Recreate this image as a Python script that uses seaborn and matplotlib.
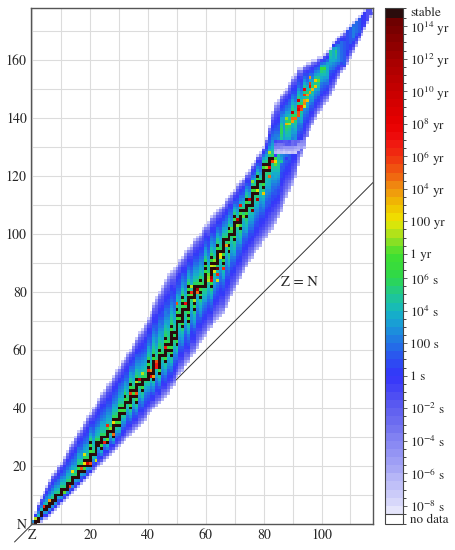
import numpy as np
import matplotlib
matplotlib.use("Agg")
import matplotlib.pyplot as plt
from matplotlib.colors import LinearSegmentedColormap, ListedColormap, BoundaryNorm
import seaborn as sns

# ---- data (Z = protons, N = neutrons) ----
# lowest / highest N drawn for each Z = 0..118
n_min = [1, 0, 1, 1, 2, 2, 3, 4, 5, 6,
         7, 8, 9, 10, 11, 12, 13, 14, 15, 16,
         17, 18, 19, 20, 21, 22, 23, 24, 25, 26,
         27, 28, 29, 30, 31, 32, 33, 34, 35, 36,
         38, 39, 40, 41, 42, 43, 44, 45, 47, 48,
         51, 52, 53, 55, 56, 58, 59, 61, 63, 64,
         65, 67, 68, 70, 71, 72, 73, 75, 77, 79,
         81, 83, 85, 87, 89, 91, 92, 94, 95, 96,
         98, 99, 101, 102, 104, 106, 108, 111, 113, 115,
         117, 120, 124, 127, 130, 134, 136, 138, 140, 142,
         143, 145, 146, 148, 150, 152, 154, 156, 157, 159,
         161, 163, 165, 167, 169, 171, 173, 175, 176]
n_max = [1, 4, 7, 9, 11, 13, 15, 17, 18, 20,
         21, 23, 25, 27, 28, 30, 32, 33, 35, 37,
         38, 40, 41, 43, 45, 46, 48, 49, 51, 53,
         54, 56, 57, 59, 60, 62, 64, 66, 67, 69,
         71, 73, 76, 78, 80, 82, 84, 86, 87, 88,
         89, 91, 92, 94, 95, 96, 98, 99, 100, 102,
         103, 104, 106, 107, 108, 109, 110, 112, 113, 114,
         115, 117, 118, 119, 121, 122, 124, 125, 127, 128,
         130, 133, 137, 142, 145, 146, 148, 149, 150, 152,
         154, 155, 157, 157, 158, 159, 159, 160, 160, 161,
         161, 162, 163, 164, 166, 167, 168, 169, 170, 171,
         172, 173, 174, 175, 176, 177, 177, 177, 177]

# stable N for each Z = 0..83
stable_n = [[], [0, 1], [1, 2], [3, 4], [5], [5, 6], [6, 7], [7, 8], [8, 9, 10], [10],
            [10, 11, 12], [12], [12, 13, 14], [14], [14, 15, 16], [16], [16, 17, 18, 20], [18, 20], [18, 20, 22], [20, 22],
            [20, 22, 23, 24, 26, 28], [24], [24, 25, 26, 27, 28], [28], [26, 28, 29, 30], [30], [28, 30, 31, 32], [32], [30, 32, 33, 34, 36], [34, 36],
            [34, 36, 37, 38, 40], [38, 40], [38, 40, 41, 42, 44], [42], [40, 42, 43, 44, 46, 48], [44, 46], [42, 44, 46, 47, 48, 50], [48], [46, 48, 49, 50], [50],
            [50, 51, 52, 54, 56], [52], [50, 52, 53, 54, 55, 56, 58], [], [52, 54, 55, 56, 57, 58, 60], [58], [56, 58, 59, 60, 62, 64], [60, 62], [58, 60, 62, 63, 64, 65, 66, 68], [64],
            [62, 64, 65, 66, 67, 68, 69, 70, 72, 74], [70, 72], [68, 70, 71, 72, 73, 74, 76, 78], [74], [70, 72, 74, 75, 76, 77, 78, 80, 82], [78], [74, 76, 78, 79, 80, 81, 82], [82], [78, 80, 82, 84], [82],
            [82, 83, 84, 85, 86, 88, 90], [], [82, 86, 87, 88, 90, 92], [88, 90], [90, 91, 92, 93, 94, 96], [94], [90, 92, 94, 95, 96, 97, 98], [98], [94, 96, 98, 99, 100, 102], [100],
            [98, 100, 101, 102, 103, 104, 106], [104], [102, 104, 105, 106, 108], [108], [106, 108, 109, 110, 112], [110], [110, 111, 112, 113, 114, 116], [114, 116], [114, 116, 117, 118, 120], [118],
            [116, 118, 119, 120, 121, 122, 124], [122, 124], [122, 124, 125, 126], [126]]
# valley position where there is no stable isotope
no_stable_valley = {0: 1, 43: 55, 61: 85}

# Z = 84..118: N of longest lived isotope and its log10(T/s)
heavy_valley = [125, 125, 136, 136, 138, 138, 142, 140, 146, 144, 150, 148, 151, 150, 153, 153, 157, 157,
                157, 163, 163, 163, 163, 163, 161, 169, 171, 171, 173, 173, 175, 175, 177, 177, 176]
heavy_peak = [9.6, 4.5, 5.5, 3.1, 10.7, 8.8, 17.6, 12.0, 17.2, 13.8, 15.4, 11.4, 14.7, 10.6, 10.5, 7.6, 6.9, 6.6,
              3.5, 4.6, 3.7, 5.0, 2.9, 1.8, 1.0, 0.6, 1.0, 2.0, 1.5, 1.0, 0.3, -0.2, -1.2, -1.3, -3.2]

# log10(T/s) across the band: 0 = valley, 1 = outer edge
prof_f = [0.0, 0.08, 0.16, 0.25, 0.35, 0.45, 0.55, 0.65, 0.75, 0.85, 0.93, 1.0]
prof_nrich = [6.5, 5.5, 4.6, 3.8, 2.9, 2.0, 1.2, 0.4, -0.6, -2.0, -4.0, -7.5]
prof_prich = [6.0, 5.0, 4.2, 3.4, 2.5, 1.6, 0.8, 0.0, -1.0, -2.3, -4.0, -6.5]
between_stable = 6.5

# individual nuclides: (Z, N, log10 T/s)
special = [
    (0, 1, 2.8), (1, 2, 8.59), (4, 6, 13.64), (6, 8, 11.26), (11, 11, 7.91), (13, 13, 13.36),
    (14, 18, 9.68), (17, 19, 12.98), (18, 21, 9.93), (18, 24, 9.02), (19, 21, 16.6), (20, 21, 12.5),
    (20, 25, 7.1), (22, 22, 9.28), (23, 27, 24.6), (25, 28, 14.07), (26, 29, 7.93), (26, 34, 13.9),
    (27, 33, 8.22), (28, 31, 12.38), (28, 35, 9.5), (34, 45, 13.0), (36, 45, 12.86), (36, 49, 8.53),
    (37, 50, 18.2), (38, 52, 8.96), (40, 53, 13.7), (41, 51, 15.0), (41, 53, 11.8), (42, 51, 11.1),
    (43, 54, 14.1), (43, 55, 14.1), (43, 56, 12.8), (46, 61, 14.3), (49, 66, 22.1), (50, 76, 12.86),
    (53, 76, 14.7), (55, 79, 7.8), (55, 80, 13.86), (55, 82, 8.98), (56, 77, 8.5), (57, 80, 12.3),
    (57, 81, 18.5), (61, 84, 8.75), (61, 85, 8.24), (61, 86, 7.9), (62, 84, 15.5), (62, 85, 18.5),
    (62, 89, 9.45), (63, 87, 9.06), (63, 89, 8.63), (63, 91, 8.43), (64, 84, 9.35), (64, 86, 13.75),
    (64, 88, 21.5), (65, 92, 9.35), (65, 93, 9.75), (66, 88, 13.98), (67, 96, 11.16), (69, 102, 7.78),
    (71, 103, 8.0), (71, 105, 18.1), (72, 110, 14.45), (73, 106, 7.75), (75, 112, 18.1), (76, 108, 21.2),
    (76, 118, 8.28), (78, 112, 19.3), (78, 115, 9.2), (80, 114, 10.15), (81, 123, 8.08), (82, 120, 12.2),
    (82, 123, 14.7), (82, 128, 8.84), (83, 125, 13.07),
    (84, 124, 7.96), (84, 125, 9.6), (84, 126, 7.08), (85, 126, 4.4), (86, 125, 4.7), (86, 126, 3.15),
    (87, 126, 1.5), (88, 126, 0.4),
    (84, 127, -0.3), (84, 128, -6.5), (84, 129, -5.4), (84, 130, -3.8), (84, 131, -2.75), (84, 132, -0.8),
    (85, 128, -6.9), (85, 129, -6.25), (85, 130, -4.0), (85, 131, -3.5), (85, 132, -1.5),
    (86, 128, -6.6), (86, 129, -5.6), (86, 130, -4.35), (86, 131, -3.3), (86, 132, -1.45),
    (87, 128, -7.1), (87, 129, -6.15), (87, 130, -4.7), (87, 131, -3.0), (87, 132, -1.7),
    (88, 128, -6.7), (88, 129, -5.8), (88, 130, -4.6), (88, 131, -2.0), (88, 132, -1.75),
    (89, 128, -7.15), (89, 129, -6.0), (89, 130, -4.9), (89, 131, -1.6), (89, 132, -1.3),
    (90, 128, -6.95), (90, 129, -6.0), (90, 130, -5.0), (90, 131, -2.8), (90, 132, -2.65),
    (91, 128, -7.3), (91, 129, -6.1), (91, 130, -5.2), (91, 131, -2.5), (91, 132, -2.3),
    (92, 129, -6.2), (92, 130, -6.0), (92, 131, -4.7), (92, 132, -3.0),
    (93, 130, -5.5), (93, 131, -5.0), (93, 132, -4.0), (94, 131, -5.0), (94, 132, -4.5), (94, 133, -3.5),
    (95, 134, -4.0),
    (88, 138, 10.7), (88, 140, 8.26), (89, 138, 8.84), (90, 139, 11.4), (90, 140, 12.37), (90, 142, 17.64),
    (91, 140, 12.01), (92, 141, 12.7), (92, 142, 12.9), (92, 143, 16.35), (92, 144, 14.86), (92, 146, 17.15),
    (93, 143, 12.7), (93, 144, 13.83), (94, 144, 9.44), (94, 145, 11.88), (94, 146, 11.3), (94, 148, 13.07),
    (94, 150, 15.4), (95, 146, 10.13), (95, 148, 11.37), (96, 149, 11.43), (96, 151, 14.69), (96, 152, 13.03),
    (96, 154, 11.4), (97, 150, 10.64), (98, 151, 10.04), (98, 153, 10.45), (99, 153, 7.6), (100, 157, 6.94),
]

# colour bar
cbar_ticks = [-8.81, -8, -6, -4, -2, 0, 2, 4, 6, 7.5, 9.5, 11.5, 13.5, 15.5, 17.5, 19.5, 21.5, 22.38]
cbar_labels = ['no data', r'$10^{-8}$ s', r'$10^{-6}$ s', r'$10^{-4}$ s', r'$10^{-2}$ s', '1 s', '100 s',
               r'$10^{4}$ s', r'$10^{6}$ s', '1 yr', '100 yr', r'$10^{4}$ yr', r'$10^{6}$ yr',
               r'$10^{8}$ yr', r'$10^{10}$ yr', r'$10^{12}$ yr', r'$10^{14}$ yr', 'stable']
x_tick_z = [0, 20, 40, 60, 80, 100]
x_tick_labels = ['Z', '20', '40', '60', '80', '100']
y_tick_n = [0, 20, 40, 60, 80, 100, 120, 140, 160]
y_tick_labels = ['N', '20', '40', '60', '80', '100', '120', '140', '160']

# ---- build the grid ----
STABLE = 22.3
nz, nn = len(n_min), 180
grid = np.full((nn, nz), np.nan)
for z in range(nz):
    lo, hi = n_min[z], n_max[z]
    st = stable_n[z] if z < len(stable_n) else []
    if st:
        ref_lo, ref_hi = min(st), max(st)
    elif z in no_stable_valley:
        ref_lo = ref_hi = no_stable_valley[z]
    else:
        ref_lo = ref_hi = heavy_valley[z - 84]
    for n in range(lo, hi + 1):
        if n in st:
            v = STABLE
        elif n > ref_hi:
            v = np.interp((n - ref_hi) / max(hi - ref_hi, 1), prof_f, prof_nrich)
        elif n < ref_lo:
            v = np.interp((ref_lo - n) / max(ref_lo - lo, 1), prof_f, prof_prich)
        else:
            v = between_stable
        if z >= 84:
            v = min(v, heavy_peak[z - 84])
        grid[n, z] = v
for z, n, t in special:
    grid[n, z] = t

# ---- colours ----
anchor_t = [-8.5, -8, -7, -6, -5, -4, -3, -2, -1, 0, 1, 2, 3, 4, 5, 6,
            7.5, 8.5, 9.5, 10.5, 11.5, 12.5, 13.5, 14.5, 15.5, 17.5, 19.5, 21.5, 22.0]
anchor_c = ['#eeeefc', '#dcdcfa', '#c4c4f8', '#aeaef6', '#9898f4', '#8484f2', '#7070f0', '#5c5cf0',
            '#4848f4', '#3434fa', '#2c52f0', '#2272e6', '#1a98d8', '#14b6c4', '#20c890', '#2ed84a',
            '#40e030', '#a0e020', '#f0e800', '#f0c000', '#f09010', '#f06010', '#f03010', '#f01010',
            '#e80000', '#c80000', '#a40000', '#740000', '#680000']
pos = [(t - anchor_t[0]) / (anchor_t[-1] - anchor_t[0]) for t in anchor_t]
base = LinearSegmentedColormap.from_list('halflife', list(zip(pos, anchor_c)))
edges = np.arange(-8.5, 22.01, 0.5)
centers = (edges[:-1] + edges[1:]) / 2
band_cols = [base((c - edges[0]) / (edges[-1] - edges[0])) for c in centers]
cmap = ListedColormap(['white'] + band_cols + ['#2a0c0c'])
bounds = np.concatenate([[-9.12], edges, [22.62]])
norm = BoundaryNorm(bounds, cmap.N)

# ---- plot ----
sns.set_style('white')
plt.rcParams['font.family'] = ['STIXGeneral', 'DejaVu Serif']
plt.rcParams['mathtext.fontset'] = 'stix'

fig = plt.figure(figsize=(4.55, 5.5), dpi=100)
ax = fig.add_axes([31 / 455, 26 / 550, 342 / 455, 516 / 550])
cax = fig.add_axes([385 / 455, 26 / 550, 18 / 455, 516 / 550])

sns.heatmap(grid, ax=ax, cbar_ax=cax, cmap=cmap, norm=norm,
            xticklabels=False, yticklabels=False, linewidths=0,
            cbar_kws={'spacing': 'proportional', 'ticks': cbar_ticks})

ax.set_xlim(0, 118.3)
ax.set_ylim(0.5, 178.5)
ax.set_xticks([z + 0.5 for z in x_tick_z])
ax.set_xticklabels(x_tick_labels)
ax.set_xticks([z + 0.5 for z in range(10, 120, 20)], minor=True)
ax.set_yticks([n + 0.5 for n in y_tick_n])
ax.set_yticklabels(y_tick_labels, rotation=0)
ax.set_yticks([n + 0.5 for n in range(10, 180, 20)], minor=True)
ax.grid(True, which='both', color='#dcdcdc', lw=0.8, ls='-')
ax.set_axisbelow(True)
ax.tick_params(which='both', length=0, labelsize=10, pad=3)
for s in ax.spines.values():
    s.set_visible(True)
    s.set_color('#555555')
    s.set_linewidth(1.0)

ax.plot([-5.7, 118.3], [-5.7, 118.3], color='#333333', lw=0.7, ls='-',
        clip_on=False, zorder=0.8)
ax.text(93.0, 83.9, 'Z = N', fontsize=10.5, ha='center', va='center')

cb = ax.collections[0].colorbar
cb.set_ticks(cbar_ticks)
cb.set_ticklabels(cbar_labels)
cb.outline.set_linewidth(0.8)
cb.outline.set_edgecolor('#444444')
cax.tick_params(length=3, width=0.6, labelsize=9.5, pad=2, color='#444444')
cax.axhline(-8.5, color='#444444', lw=0.8)
ticks = cax.yaxis.get_major_ticks()
for t in (ticks[0], ticks[-1]):
    t.tick1line.set_visible(False)
    t.tick2line.set_visible(False)

fig.savefig('out.png', dpi=100)
